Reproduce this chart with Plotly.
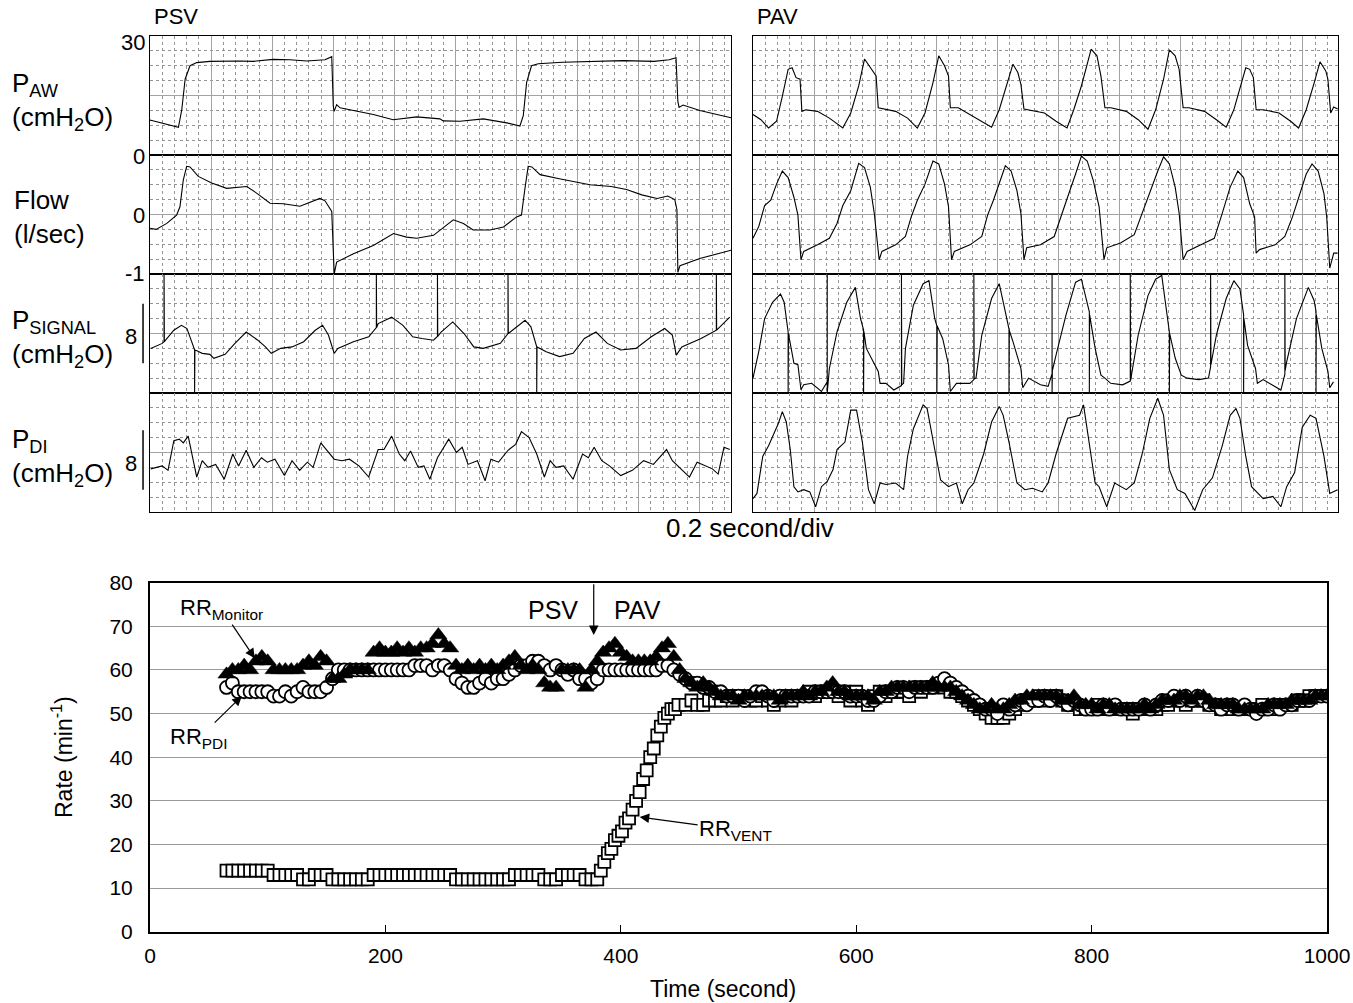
import plotly.graph_objects as go

W, H = 1353, 1003
FONT = "Liberation Sans, Arial, sans-serif"

# ------------------------------------------------------------------
# Top panels: waveform tracings (time in s, value in strip units)
# ------------------------------------------------------------------
PSV_PAW = [(0.0, 8.8), (0.006, 8.7), (0.093, 7.0), (0.104, 11.4), (0.115, 19.1), (0.131, 22.5),
           (0.153, 23.3), (0.196, 23.6), (0.295, 23.7), (0.337, 23.6), (0.403, 24.1), (0.458, 24.0),
           (0.513, 23.7), (0.573, 24.0), (0.595, 24.8), (0.600, 12.3), (0.603, 11.0), (0.611, 12.7),
           (0.622, 11.9), (0.677, 11.0), (0.731, 10.2), (0.796, 8.9), (0.873, 9.6), (0.949, 9.1),
           (0.96, 8.6), (1.015, 8.5), (1.091, 9.1), (1.168, 8.1), (1.211, 7.3), (1.222, 9.9),
           (1.233, 18.3), (1.249, 22.5), (1.271, 23.0), (1.35, 23.4), (1.45, 23.6), (1.55, 23.8),
           (1.65, 23.6), (1.70, 24.0), (1.722, 24.5), (1.728, 13.5), (1.732, 12.0), (1.745, 12.6),
           (1.80, 11.2), (1.85, 10.4), (1.902, 9.4)]

PSV_FLOW = [(0.0, -0.23), (0.02, -0.25), (0.055, -0.15), (0.087, -0.01), (0.098, 0.13), (0.109, 0.58),
            (0.12, 0.81), (0.131, 0.80), (0.158, 0.64), (0.202, 0.53), (0.251, 0.44), (0.317, 0.47),
            (0.349, 0.36), (0.393, 0.19), (0.436, 0.18), (0.491, 0.14), (0.556, 0.27), (0.573, 0.23),
            (0.595, 0.05), (0.600, -0.83), (0.603, -1.0), (0.611, -0.8), (0.666, -0.66), (0.731, -0.52),
            (0.797, -0.32), (0.84, -0.38), (0.873, -0.40), (0.928, -0.35), (0.993, -0.09), (1.026, -0.15),
            (1.058, -0.26), (1.113, -0.26), (1.157, -0.21), (1.2, -0.04), (1.216, -0.01), (1.227, 0.42),
            (1.238, 0.81), (1.25, 0.80), (1.277, 0.67), (1.34, 0.60), (1.44, 0.50), (1.51, 0.47),
            (1.56, 0.42), (1.61, 0.33), (1.66, 0.27), (1.695, 0.31), (1.718, 0.25), (1.725, 0.08),
            (1.728, -0.97), (1.735, -0.86), (1.80, -0.74), (1.902, -0.60)]

PSV_PSIG = [(0.0025, 6.0), (0.04, 6.67), (0.046, 6.9), (0.046, 16), (0.047, 6.9), (0.078, 8.44),
            (0.103, 9.1), (0.121, 8.67), (0.146, 5.8), (0.146, 0), (0.147, 5.8), (0.171, 5.33),
            (0.196, 5.2), (0.209, 4.67), (0.246, 5.2), (0.278, 6.67), (0.315, 8.2), (0.353, 7.1),
            (0.378, 6.2), (0.397, 5.33), (0.428, 6.0), (0.465, 6.2), (0.503, 6.9), (0.54, 8.4),
            (0.565, 9.1), (0.584, 7.8), (0.603, 5.33), (0.615, 6.0), (0.666, 6.9), (0.716, 7.56),
            (0.741, 8.8), (0.741, 16), (0.742, 8.8), (0.747, 9.33), (0.791, 10.2), (0.828, 9.1),
            (0.86, 7.56), (0.89, 7.33), (0.928, 7.1), (0.941, 7.6), (0.941, 16), (0.942, 7.6),
            (0.953, 8.2), (0.991, 9.56), (1.028, 8.0), (1.06, 6.2), (1.091, 6.0), (1.147, 6.67),
            (1.172, 8.0), (1.172, 16), (1.173, 8.0), (1.228, 9.78), (1.247, 8.9), (1.266, 6.2),
            (1.266, 0), (1.267, 6.2), (1.297, 5.56), (1.341, 4.9), (1.385, 5.33), (1.422, 7.33),
            (1.46, 8.2), (1.497, 6.67), (1.541, 5.78), (1.591, 6.0), (1.641, 7.56), (1.685, 8.67),
            (1.71, 7.78), (1.723, 5.1), (1.741, 6.2), (1.804, 7.33), (1.854, 8.44), (1.854, 16),
            (1.855, 8.44), (1.898, 10.2)]

PSV_PDI = [(0.0025, 5.8), (0.04, 6.2), (0.059, 5.6), (0.078, 9.6), (0.096, 9.8), (0.109, 9.3),
           (0.125, 10.2), (0.14, 7.3), (0.153, 4.7), (0.171, 6.9), (0.19, 6.0), (0.215, 6.4),
           (0.243, 4.4), (0.271, 7.8), (0.29, 6.2), (0.315, 8.3), (0.34, 6.0), (0.365, 7.3),
           (0.384, 6.7), (0.409, 7.1), (0.44, 4.9), (0.465, 6.9), (0.49, 5.6), (0.515, 6.7),
           (0.534, 6.0), (0.559, 9.3), (0.578, 8.4), (0.603, 7.1), (0.628, 6.9), (0.653, 7.1),
           (0.684, 6.2), (0.716, 4.7), (0.747, 8.4), (0.766, 8.4), (0.791, 10.2), (0.816, 7.8),
           (0.834, 6.9), (0.853, 8.2), (0.878, 6.0), (0.897, 6.2), (0.916, 4.4), (0.941, 7.3),
           (0.978, 9.8), (1.003, 8.0), (1.022, 8.7), (1.041, 6.4), (1.072, 6.9), (1.097, 4.2),
           (1.116, 7.1), (1.141, 6.7), (1.172, 8.3), (1.197, 9.1), (1.216, 10.8), (1.241, 10.0),
           (1.266, 7.8), (1.291, 4.7), (1.31, 6.9), (1.329, 6.0), (1.354, 6.2), (1.385, 4.4),
           (1.416, 7.8), (1.435, 7.3), (1.454, 8.7), (1.479, 6.9), (1.504, 6.2), (1.541, 4.9),
           (1.579, 5.6), (1.616, 6.9), (1.648, 6.4), (1.691, 8.4), (1.71, 6.9), (1.729, 6.2),
           (1.766, 4.7), (1.791, 6.7), (1.816, 6.2), (1.841, 5.8), (1.86, 5.1), (1.879, 8.7),
           (1.898, 8.4)]

PAV_PAW = [(0, 10.2), (0.026, 8.9), (0.051, 6.8), (0.077, 8.5), (0.096, 14.8), (0.115, 21.6),
           (0.128, 22.0), (0.141, 19.5), (0.154, 19.1), (0.16, 11.0), (0.173, 11.4), (0.211, 11.0),
           (0.25, 9.3), (0.294, 6.8), (0.32, 10.6), (0.346, 17.4), (0.365, 24.2), (0.384, 22.0),
           (0.403, 19.9), (0.41, 11.9), (0.429, 11.6), (0.467, 11.0), (0.506, 9.3), (0.538, 6.8),
           (0.563, 10.6), (0.589, 18.2), (0.608, 25.0), (0.627, 22.5), (0.64, 19.9), (0.646, 11.9),
           (0.672, 11.9), (0.723, 9.7), (0.781, 7.0), (0.806, 11.4), (0.832, 18.2), (0.851, 22.9),
           (0.867, 20.8), (0.877, 17.8), (0.887, 11.6), (0.902, 11.4), (0.954, 10.6), (0.992, 8.5),
           (1.028, 6.8), (1.05, 11.4), (1.075, 17.4), (1.107, 26.7), (1.126, 25.0), (1.139, 19.9),
           (1.152, 11.9), (1.171, 11.9), (1.222, 11.0), (1.261, 8.9), (1.293, 6.5), (1.318, 11.4),
           (1.344, 19.1), (1.363, 26.5), (1.382, 25.0), (1.395, 21.6), (1.408, 11.9), (1.427, 11.9),
           (1.478, 11.0), (1.517, 8.9), (1.549, 7.0), (1.574, 11.4), (1.6, 18.2), (1.613, 22.0),
           (1.626, 21.6), (1.638, 19.5), (1.647, 11.4), (1.67, 11.4), (1.722, 10.6), (1.76, 8.5),
           (1.786, 6.8), (1.811, 11.4), (1.837, 18.2), (1.856, 23.5), (1.875, 21.2), (1.882, 19.1),
           (1.891, 10.6), (1.901, 12.1), (1.914, 11.6)]

PAV_FLOW = [(0, -0.40), (0.019, -0.2), (0.038, 0.15), (0.058, 0.24), (0.077, 0.51), (0.096, 0.73),
            (0.115, 0.62), (0.134, 0.29), (0.147, -0.01), (0.157, -0.76), (0.166, -0.62), (0.211, -0.51),
            (0.25, -0.40), (0.275, -0.15), (0.294, 0.15), (0.32, 0.40), (0.346, 0.86), (0.365, 0.79),
            (0.384, 0.46), (0.397, 0.02), (0.413, -0.76), (0.422, -0.62), (0.467, -0.51), (0.499, -0.37),
            (0.518, -0.04), (0.538, 0.24), (0.563, 0.51), (0.589, 0.90), (0.608, 0.85), (0.627, 0.51),
            (0.64, 0.13), (0.65, -0.76), (0.659, -0.62), (0.71, -0.51), (0.749, -0.37), (0.768, -0.01),
            (0.787, 0.24), (0.806, 0.51), (0.826, 0.82), (0.845, 0.73), (0.864, 0.40), (0.877, 0.02),
            (0.887, -0.76), (0.896, -0.56), (0.941, -0.51), (0.986, -0.37), (1.011, 0.02), (1.037, 0.40),
            (1.056, 0.68), (1.075, 0.98), (1.094, 0.90), (1.114, 0.57), (1.133, 0.13), (1.149, -0.76),
            (1.158, -0.56), (1.203, -0.48), (1.248, -0.34), (1.274, 0.02), (1.299, 0.40), (1.325, 0.73),
            (1.344, 0.97), (1.363, 0.85), (1.382, 0.46), (1.395, 0.02), (1.408, -0.76), (1.421, -0.62),
            (1.466, -0.51), (1.51, -0.40), (1.536, 0.02), (1.562, 0.46), (1.587, 0.73), (1.606, 0.62),
            (1.626, 0.18), (1.642, -0.04), (1.647, -0.65), (1.658, -0.59), (1.709, -0.51), (1.741, -0.37),
            (1.766, -0.04), (1.792, 0.40), (1.811, 0.68), (1.83, 0.85), (1.85, 0.73), (1.869, 0.35),
            (1.878, -0.04), (1.888, -0.90), (1.901, -0.65), (1.914, -0.65)]

PAV_PSIG = [(0, 2.0), (0.019, 5.6), (0.038, 10.0), (0.064, 12.2), (0.09, 13.3), (0.102, 12.2),
            (0.115, 8.2), (0.115, 0), (0.116, 8.0), (0.134, 4.0), (0.147, 3.8), (0.157, 0.44),
            (0.166, 1.1), (0.192, 1.3), (0.224, 0.2), (0.243, 1.5), (0.243, 16), (0.243, 0),
            (0.25, 3.3), (0.275, 8.2), (0.307, 12.2), (0.335, 14.2), (0.352, 10.0), (0.362, 8.5),
            (0.362, 0), (0.363, 8.3), (0.371, 6.0), (0.397, 4.0), (0.41, 2.9), (0.416, 1.3),
            (0.435, 1.3), (0.461, 0.4), (0.486, 1.0), (0.486, 16), (0.487, 1.1), (0.493, 1.3),
            (0.499, 6.0), (0.525, 11.8), (0.557, 14.7), (0.576, 15.1), (0.595, 10.0), (0.602, 9.0),
            (0.602, 0), (0.603, 9.0), (0.621, 7.3), (0.64, 3.8), (0.646, 0.2), (0.666, 1.3),
            (0.71, 1.3), (0.723, 1.8), (0.723, 16), (0.724, 1.9), (0.73, 2.0), (0.749, 7.8),
            (0.781, 12.7), (0.806, 14.7), (0.826, 10.9), (0.838, 8.6), (0.838, 0), (0.839, 8.4),
            (0.851, 6.9), (0.877, 3.3), (0.883, 0.7), (0.902, 2.0), (0.941, 1.1), (0.966, 0.9),
            (0.979, 2.6), (0.979, 16), (0.979, 0), (0.98, 3.0), (0.992, 5.1), (1.024, 10.4),
            (1.056, 14.9), (1.075, 15.3), (1.101, 10.9), (1.101, 0), (1.102, 10.5), (1.12, 6.0),
            (1.139, 2.4), (1.152, 2.0), (1.171, 1.3), (1.21, 1.1), (1.235, 1.6), (1.235, 16),
            (1.236, 1.7), (1.261, 7.8), (1.293, 13.1), (1.318, 15.3), (1.338, 15.8), (1.363, 8.2),
            (1.363, 0), (1.364, 8.0), (1.382, 4.7), (1.402, 2.4), (1.421, 2.0), (1.459, 1.8),
            (1.491, 2.0), (1.498, 3.5), (1.498, 16), (1.499, 3.8), (1.517, 7.8), (1.549, 12.7),
            (1.574, 15.1), (1.594, 14.0), (1.606, 10.5), (1.606, 0), (1.607, 10.0), (1.619, 6.4),
            (1.645, 3.3), (1.651, 1.3), (1.67, 1.8), (1.728, 0.4), (1.741, 2.5), (1.741, 16),
            (1.742, 3.0), (1.747, 4.2), (1.779, 10.0), (1.818, 14.2), (1.837, 12.4), (1.843, 11.0),
            (1.843, 0), (1.844, 10.5), (1.862, 6.0), (1.882, 2.9), (1.888, 0.7), (1.9, 1.5)]

PAV_PDI = [(0, 1.8), (0.013, 2.5), (0.032, 7.5), (0.051, 8.9), (0.07, 10.7), (0.083, 11.9),
           (0.096, 13.5), (0.109, 12.1), (0.122, 8.4), (0.134, 3.4), (0.147, 2.7), (0.166, 3.0),
           (0.186, 2.7), (0.205, 0.7), (0.224, 3.4), (0.243, 4.1), (0.262, 5.7), (0.275, 8.4),
           (0.301, 9.4), (0.32, 13.7), (0.339, 13.7), (0.358, 9.4), (0.378, 3.0), (0.397, 1.1),
           (0.416, 3.9), (0.435, 3.7), (0.467, 3.9), (0.493, 3.0), (0.506, 7.5), (0.525, 11.2),
           (0.557, 14.4), (0.57, 13.9), (0.595, 8.4), (0.614, 4.3), (0.64, 3.4), (0.666, 3.9),
           (0.685, 1.1), (0.704, 3.0), (0.723, 3.9), (0.755, 7.8), (0.781, 12.1), (0.806, 14.2),
           (0.819, 13.0), (0.838, 9.4), (0.864, 3.9), (0.89, 3.0), (0.915, 3.2), (0.947, 2.7),
           (0.966, 3.9), (0.992, 7.8), (1.03, 12.6), (1.069, 13.0), (1.082, 14.4), (1.101, 8.9),
           (1.12, 3.9), (1.133, 3.4), (1.158, 0.7), (1.184, 3.9), (1.222, 3.0), (1.248, 3.9),
           (1.274, 7.8), (1.299, 12.6), (1.325, 15.3), (1.344, 13.0), (1.363, 5.7), (1.389, 3.0),
           (1.414, 2.5), (1.446, 0.2), (1.472, 3.0), (1.504, 4.6), (1.536, 8.9), (1.562, 13.0),
           (1.581, 13.9), (1.594, 12.6), (1.613, 7.5), (1.632, 3.4), (1.67, 1.8), (1.702, 2.1),
           (1.728, 0.7), (1.747, 3.4), (1.773, 5.3), (1.798, 11.4), (1.824, 13.0), (1.843, 12.6),
           (1.869, 7.5), (1.888, 2.5), (1.914, 3.0)]

STRIP_RANGES = [(0, 30), (-1, 1), (0, 16), (0, 16)]      # PAW, Flow, P_SIGNAL, P_DI
SCALE_BARS = {2: (4, 12), 3: (3, 11)}                     # 8 cmH2O scale bars
PANEL_TMAX = {"PSV": 1.902, "PAV": 1.915}

# ------------------------------------------------------------------
# Bottom chart: respiratory rates (time s, rate min^-1)
# ------------------------------------------------------------------
T_RR = list(range(65, 1001, 5))

RR_PDI = ([56, 57, 55, 55, 55, 55, 55, 55, 54, 54, 55, 54, 55, 56, 55, 55, 55, 56] +
          [58, 60, 60, 60, 60, 60, 60, 60, 60, 60, 60, 60, 60, 60, 61, 61, 61, 60, 61, 61] +
          [60, 58, 57, 56, 56, 57, 58, 57, 58, 58, 59, 60, 61, 61, 62, 62] +
          [61, 60, 61, 60, 59, 60, 58, 58, 57, 58] +
          [60, 60, 60, 60, 60, 60, 60, 60, 60, 60, 61, 61, 60, 59, 58, 57, 57] +
          [56, 56, 55, 55, 54, 54, 54, 53, 54, 55,
           55, 54, 53, 54, 54, 54, 54, 54, 54, 55,
           55, 55, 55, 55, 55, 54, 54, 54, 53, 53,
           54, 55, 55, 56, 56, 55, 56, 56, 56, 56,
           57, 58, 57, 56, 55, 54, 53, 52, 51, 51,
           50, 52, 51, 52, 53, 52, 53, 53, 54, 53,
           54, 53, 52, 53, 52, 51, 51, 51, 52, 51,
           52, 51, 51, 51, 51, 52, 51, 52, 53, 53,
           54, 53, 54, 53, 54, 53, 52, 52, 51, 52,
           52, 51, 52, 51, 50, 51, 51, 52, 51, 52,
           52, 53, 53, 53, 54, 54, 54])

RR_MONITOR = ([59, 60, 60, 61, 60, 62, 63, 62, 60, 60, 60, 60, 60, 61, 62, 61, 63, 62] +
              [58, 58, 59, 60, 60, 60, 60, 64, 65, 64, 64, 65, 64, 65, 64, 65, 65, 66, 68, 66] +
              [65, 61, 60, 61, 60, 61, 60, 61, 60, 61, 62, 63, 61, 60, 61, 60] +
              [57, 56, 56, 60, 60, 60, 60, 56, 60, 62] +
              [64, 65, 66, 64, 63, 62, 62, 62, 62, 63, 65, 66, 63, 60, 58, 57, 56] +
              [57, 56, 55, 54, 54, 54, 53, 54, 54, 54,
               54, 54, 54, 53, 54, 54, 54, 55, 54, 55,
               55, 56, 57, 55, 55, 54, 54, 54, 54, 53,
               55, 55, 56, 56, 56, 56, 56, 56, 56, 57,
               56, 56, 56, 55, 54, 53, 52, 51, 51, 52,
               51, 51, 52, 53, 53, 54, 54, 54, 54, 54,
               54, 53, 53, 54, 52, 52, 52, 51, 52, 52,
               51, 51, 51, 51, 51, 52, 51, 52, 53, 53,
               53, 54, 54, 53, 54, 54, 53, 52, 52, 52,
               52, 51, 51, 51, 51, 51, 52, 52, 52, 52,
               53, 53, 53, 53, 54, 54, 54])

T_VENT = list(range(65, 381, 5)) + list(range(383, 450, 3)) + list(range(455, 1001, 5))
RR_VENT = ([14] * 8 + [13] * 5 + [12] * 2 + [13] * 3 + [12] * 7 + [13] * 14 + [12] * 10 +
           [13] * 5 + [12] * 3 + [13] * 4 + [12] * 3 +
           [14, 16, 18, 19, 21, 22, 23, 25, 26, 28, 30, 32, 35, 37, 40, 42, 45, 47, 49, 50, 51, 51, 52] +
           [52, 53, 52] +
           [52, 53, 53, 53, 54, 53, 54, 54, 53, 53,
            54, 53, 52, 53, 54, 53, 54, 54, 55, 54,
            55, 55, 55, 54, 55, 53, 55, 53, 52, 54,
            55, 54, 55, 55, 55, 54, 56, 55, 56, 56,
            56, 56, 55, 55, 54, 53, 52, 51, 50, 49,
            49, 49, 50, 51, 52, 53, 53, 54, 53, 54,
            54, 53, 52, 52, 51, 51, 51, 52, 51, 51,
            51, 51, 51, 50, 51, 51, 51, 51, 52, 52,
            53, 53, 52, 53, 53, 53, 52, 52, 51, 51,
            51, 51, 51, 51, 51, 52, 51, 51, 52, 52,
            52, 53, 53, 54, 54, 54, 54])

assert len(T_RR) == len(RR_PDI) == len(RR_MONITOR), (len(T_RR), len(RR_PDI), len(RR_MONITOR))
assert len(T_VENT) == len(RR_VENT), (len(T_VENT), len(RR_VENT))

# ------------------------------------------------------------------
# Layout geometry (pixels of the 1353 x 1003 canvas)
# ------------------------------------------------------------------
def xp(px):
    return px / W


def yp(py):
    return 1 - py / H


STRIP_PX = [36, 155, 274, 393, 512]
PANELS = [("PSV", (150, 731), [PSV_PAW, PSV_FLOW, PSV_PSIG, PSV_PDI]),
          ("PAV", (753, 1338), [PAV_PAW, PAV_FLOW, PAV_PSIG, PAV_PDI])]

fig = go.Figure()
layout = {}
shapes = []
annotations = []

GRID_MAJ = "#a3a3a3"
GRID_MIN = "#949494"

k = 0
for pname, (px0, px1), series in PANELS:
    for r in range(4):
        k += 1
        sfx = "" if k == 1 else str(k)
        lo, hi = STRIP_RANGES[r]
        t, v = zip(*series[r])
        fig.add_trace(go.Scatter(x=list(t), y=list(v), mode="lines",
                                 line=dict(color="black", width=1.1),
                                 xaxis="x" + sfx, yaxis="y" + sfx,
                                 hoverinfo="skip", showlegend=False))
        layout["xaxis" + sfx] = dict(
            domain=[xp(px0), xp(px1)], range=[0, PANEL_TMAX[pname]], anchor="y" + sfx,
            showticklabels=False, ticks="", zeroline=False,
            showgrid=True, gridcolor=GRID_MAJ, gridwidth=1, tick0=0, dtick=0.2,
            minor=dict(dtick=0.04, tick0=0, showgrid=True, gridcolor=GRID_MIN,
                       griddash="dot", gridwidth=1, ticks=""),
            showline=True, mirror=True, linecolor="black", linewidth=1.3, fixedrange=True)
        layout["yaxis" + sfx] = dict(
            domain=[yp(STRIP_PX[r + 1]), yp(STRIP_PX[r])], range=[lo, hi], anchor="x" + sfx,
            showticklabels=False, ticks="", zeroline=False,
            showgrid=True, gridcolor=GRID_MAJ, gridwidth=1, tick0=lo, dtick=(hi - lo) / 2,
            minor=dict(dtick=(hi - lo) / 8, tick0=lo, showgrid=True, gridcolor=GRID_MIN,
                       griddash="dot", gridwidth=1, ticks=""),
            showline=True, mirror=True, linecolor="black", linewidth=1.3, fixedrange=True)
        if pname == "PSV" and r in SCALE_BARS:
            b0, b1 = SCALE_BARS[r]
            shapes.append(dict(type="line", xref="x" + sfx + " domain", yref="y" + sfx,
                               x0=-0.012, x1=-0.012, y0=b0, y1=b1,
                               line=dict(color="black", width=1.5)))

# bottom chart axes
layout["xaxis9"] = dict(domain=[xp(150), xp(1327)], range=[0, 1000], anchor="y9",
                        tick0=0, dtick=200, ticks="inside", ticklen=7, tickwidth=1, tickcolor="black",
                        showgrid=False, zeroline=False, showline=True, mirror=True,
                        linecolor="black", linewidth=2,
                        tickfont=dict(family=FONT, size=21, color="black"),
                        ticklabelstandoff=4, fixedrange=True)
layout["yaxis9"] = dict(domain=[yp(931.7), yp(582.7)], range=[0, 80], anchor="x9",
                        tick0=0, dtick=10, ticks="", showgrid=True, gridcolor="#9a9a9a", gridwidth=1,
                        zeroline=False, showline=True, mirror=True, linecolor="black", linewidth=2,
                        tickfont=dict(family=FONT, size=21, color="black"),
                        ticklabelstandoff=11, fixedrange=True)

fig.add_trace(go.Scatter(x=T_VENT, y=RR_VENT, mode="markers", name="RR VENT",
                         marker=dict(symbol="square", size=12, color="white",
                                     line=dict(color="black", width=1.8)),
                         xaxis="x9", yaxis="y9", hoverinfo="skip", showlegend=False))
fig.add_trace(go.Scatter(x=T_RR, y=RR_PDI, mode="markers", name="RR PDI",
                         marker=dict(symbol="circle", size=13, color="white",
                                     line=dict(color="black", width=1.8)),
                         xaxis="x9", yaxis="y9", hoverinfo="skip", showlegend=False))
fig.add_trace(go.Scatter(x=T_RR, y=RR_MONITOR, mode="markers", name="RR Monitor",
                         marker=dict(symbol="triangle-up", size=15, color="black",
                                     line=dict(color="black", width=0.5)),
                         xaxis="x9", yaxis="y9", hoverinfo="skip", showlegend=False))


def text(px, py, s, size, xanchor="center", yanchor="middle", angle=0, align="left"):
    annotations.append(dict(x=xp(px), y=yp(py), xref="paper", yref="paper", text=s,
                            showarrow=False, xanchor=xanchor, yanchor=yanchor, textangle=angle,
                            align=align, font=dict(family=FONT, size=size, color="black")))


# panel headings
text(152, 17, "PSV", 22, xanchor="left")
text(755, 17, "PAV", 22, xanchor="left")
# strip value labels
text(147, 42, "30", 22, xanchor="right")
text(147, 156, "0", 22, xanchor="right")
text(147, 215, "0", 22, xanchor="right")
text(147, 274, "-1", 22, xanchor="right")
text(139, 336, "8", 22, xanchor="right")
text(139, 463, "8", 22, xanchor="right")
# strip names (two-line labels)
text(10, 102, "P<sub>AW</sub><br>(cmH<sub>2</sub>O)", 26, xanchor="left")
text(12, 217, "Flow<br>(l/sec)", 26, xanchor="left")
text(10, 338, "P<sub>SIGNAL</sub><br>(cmH<sub>2</sub>O)", 26, xanchor="left")
text(10, 457, "P<sub>DI</sub><br>(cmH<sub>2</sub>O)", 26, xanchor="left")
text(750, 528, "0.2 second/div", 26)

# bottom chart titles and labels
text(62, 757, "Rate (min<sup>-1</sup>)", 23, angle=-90)
text(723, 989, "Time (second)", 23)
text(553, 610, "PSV", 25)
text(637, 610, "PAV", 25)

# arrows in bottom chart (heads in data coordinates)
ARROWS = [
    ("RR<sub>Monitor</sub>", 89, 62.7, -33, -49),
    ("RR<sub>PDI</sub>", 78, 54.0, -43, 42),
    ("RR<sub>VENT</sub>", 416, 26.3, 96, 13),
]
for label, hx, hy, ax, ay in ARROWS:
    annotations.append(dict(x=hx, y=hy, xref="x9", yref="y9", text=label, showarrow=True,
                            ax=ax, ay=ay, arrowhead=2, arrowsize=1.6, arrowwidth=1.2,
                            arrowcolor="black", font=dict(family=FONT, size=22, color="black")))
annotations.append(dict(x=377, y=68, xref="x9", yref="y9", text="", showarrow=True,
                        axref="x9", ayref="y9", ax=377, ay=80, arrowhead=2, arrowsize=1.6,
                        arrowwidth=1.2, arrowcolor="black"))

fig.update_layout(
    width=W, height=H, autosize=False,
    margin=dict(l=0, r=0, t=0, b=0, pad=0),
    paper_bgcolor="white", plot_bgcolor="white",
    template="none", showlegend=False, hovermode=False,
    font=dict(family=FONT, color="black"),
    shapes=shapes, annotations=annotations,
    **layout,
)

fig.write_html("out.html",
               config={"displayModeBar": False, "staticPlot": True},
               post_script="document.body.style.margin='0';document.body.style.padding='0';")
